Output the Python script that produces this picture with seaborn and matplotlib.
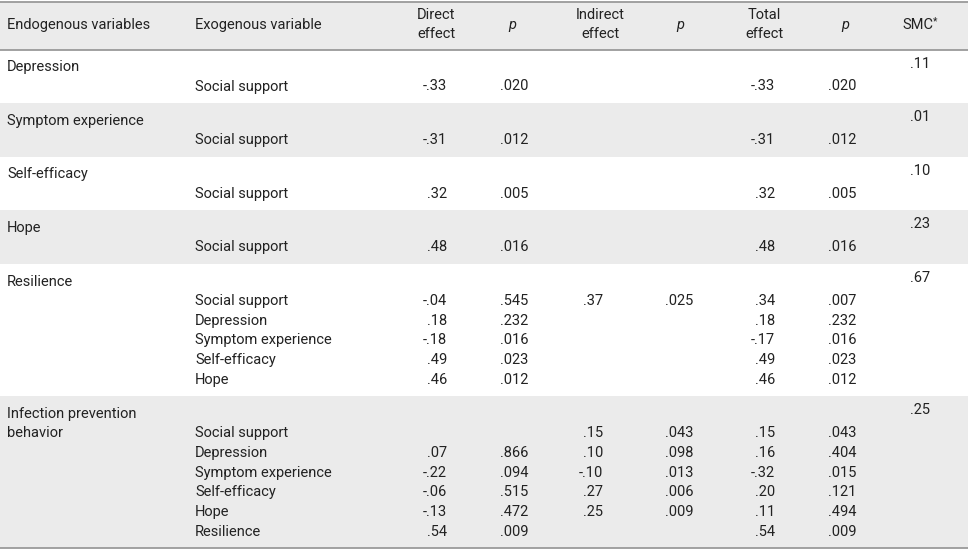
import matplotlib
matplotlib.use("Agg")
import matplotlib.pyplot as plt
import seaborn as sns

# ---------------- data ----------------
header_labels = ["Endogenous variables", "Exogenous variable", "Direct\neffect", "p",
                 "Indirect\neffect", "p", "Total\neffect", "p", "SMC*"]

endogenous = ["Depression", "Symptom experience", "Self-efficacy", "Hope",
              "Resilience", "Infection prevention\nbehavior"]
smc = [.11, .01, .10, .23, .67, .25]

row_group = [0, 1, 2, 3, 4, 4, 4, 4, 4, 5, 5, 5, 5, 5, 5]
exogenous = ["Social support", "Social support", "Social support", "Social support",
             "Social support", "Depression", "Symptom experience", "Self-efficacy", "Hope",
             "Social support", "Depression", "Symptom experience", "Self-efficacy", "Hope",
             "Resilience"]
direct_effect = [-.33, -.31, .32, .48, -.04, .18, -.18, .49, .46,
                 None, .07, -.22, -.06, -.13, .54]
direct_p = [.020, .012, .005, .016, .545, .232, .016, .023, .012,
            None, .866, .094, .515, .472, .009]
indirect_effect = [None, None, None, None, .37, None, None, None, None,
                   .15, .10, -.10, .27, .25, None]
indirect_p = [None, None, None, None, .025, None, None, None, None,
              .043, .098, .013, .006, .009, None]
total_effect = [-.33, -.31, .32, .48, .34, .18, -.17, .49, .46,
                .15, .16, -.32, .20, .11, .54]
total_p = [.020, .012, .005, .016, .007, .232, .016, .023, .012,
           .043, .404, .015, .121, .494, .009]


def fmt(v, nd):
    if v is None:
        return ""
    s = f"{v:.{nd}f}"
    return s.replace("0.", ".", 1)


# ---------------- style ----------------
sns.set_theme(style="white")
plt.rcParams["font.family"] = ["Roboto", "DejaVu Sans"]

W, H = 968, 549
fig = plt.figure(figsize=(W / 100, H / 100), dpi=100)
ax = fig.add_axes([0, 0, 1, 1])
ax.set_xlim(0, W)
ax.set_ylim(H, 0)
ax.axis("off")

TXT = "#222222"
BAND = "#ebebeb"
LINE = "#9a9a9a"
FS = 10.5


def put(x, y, s, ha="left", **kw):
    ax.text(x, y, s, ha=ha, va="center", fontsize=kw.pop("fs", FS), color=TXT, **kw)


# header band
ax.axhspan(1.5, 49.5, color=BAND, lw=0, zorder=0)
ax.axhline(1.5, color=LINE, lw=1.3)
ax.axhline(49.5, color=LINE, lw=1.3)

hdr_x = [7, 195, 436, 512, 600, 680, 764, 845, 921]
hdr_ha = ["left", "left", "center", "center", "center", "center", "center", "center", "center"]
for lab, x, ha in zip(header_labels, hdr_x, hdr_ha):
    if lab == "SMC*":
        put(x - 3, 25, "SMC", ha="center")
        put(x + 14, 21, "*", ha="center", fs=FS * 0.7)
        continue
    lines = lab.split("\n")
    if len(lines) == 1:
        put(x, 25, lab, ha=ha, style="italic" if lab == "p" else "normal")
    else:
        for j, ln in enumerate(lines):
            put(x, 15 + 19.5 * j, ln, ha=ha)

ROW = 19.65
top = 49.5
for g, name in enumerate(endogenous):
    idx = [i for i, rg in enumerate(row_group) if rg == g]
    n = len(idx)
    height = 34 + ROW * n
    if g % 2 == 1:
        ax.axhspan(top, top + height, color=BAND, lw=0, zorder=0)
    for j, ln in enumerate(name.split("\n")):
        put(7, top + 17.5 + 19.3 * j, ln)
    put(930, top + 14, fmt(smc[g], 2), ha="right")
    for k, i in enumerate(idx):
        y = top + 37 + ROW * k
        put(195, y, exogenous[i])
        put(447, y, fmt(direct_effect[i], 2), ha="right")
        put(500, y, fmt(direct_p[i], 3))
        put(603, y, fmt(indirect_effect[i], 2), ha="right")
        put(665, y, fmt(indirect_p[i], 3))
        put(775, y, fmt(total_effect[i], 2), ha="right")
        put(828, y, fmt(total_p[i], 3))
    top += height

ax.axhline(top, color=LINE, lw=1.3)

fig.savefig("out.png", dpi=100, facecolor="white")
